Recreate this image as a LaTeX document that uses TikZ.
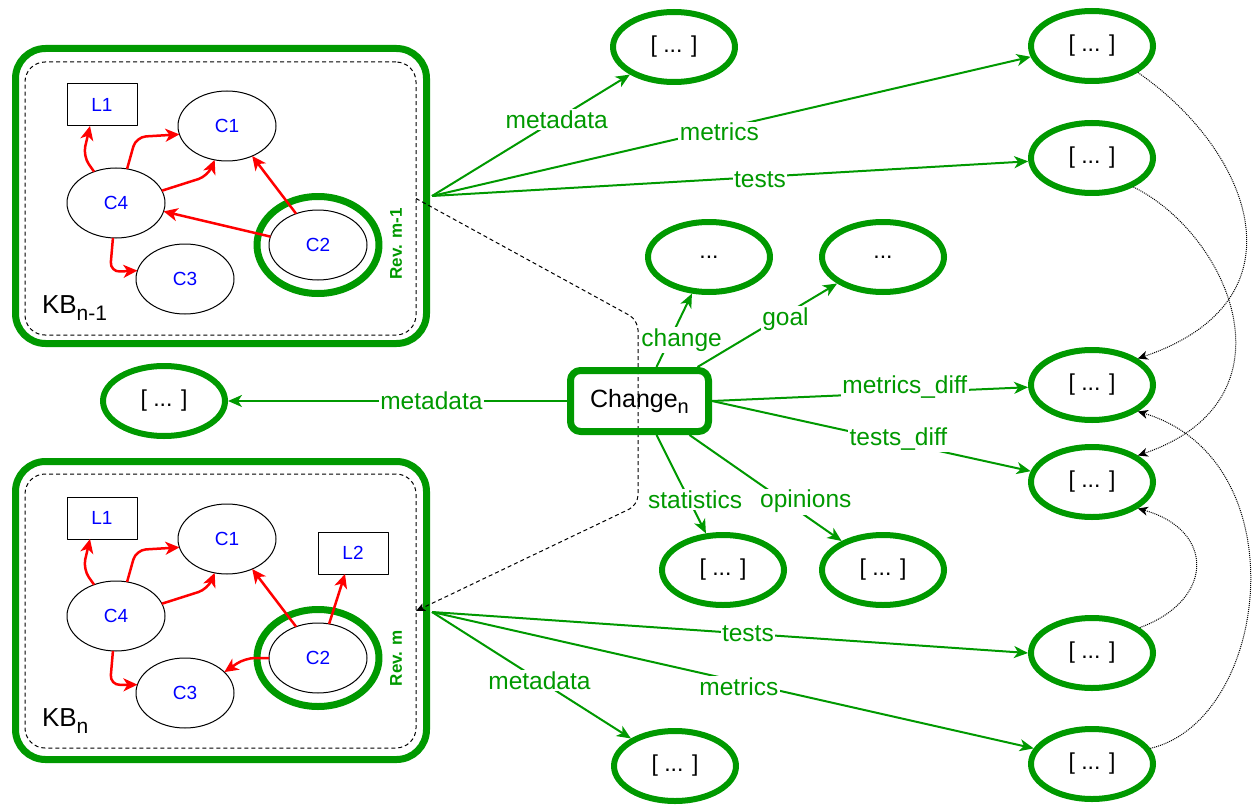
\documentclass[tikz,border=0pt]{standalone}
\usepackage{fontspec}
\setmainfont{Liberation Sans}
\usetikzlibrary{arrows.meta,shapes.geometric,calc}
\definecolor{grn}{RGB}{0,153,0}
\definecolor{blu}{RGB}{0,0,255}
\definecolor{rd}{RGB}{255,0,0}
\begin{document}
\begin{tikzpicture}[x=1pt,y=-1pt,line join=round,
  every node/.style={inner sep=0pt,outer sep=0pt,font=\fontsize{24.5}{29}\selectfont},
  kbbox/.style={draw=grn,line width=7pt,rounded corners=30pt,minimum width=411pt,minimum height=295pt},
  kbin/.style={draw=black,line width=1pt,dash pattern=on 4pt off 3pt,rounded corners=20pt,minimum width=391pt,minimum height=273pt},
  cnode/.style={ellipse,draw=black,line width=1pt,minimum width=98pt,minimum height=70pt,text=blu,font=\fontsize{19}{22}\selectfont},
  lnode/.style={rectangle,draw=black,line width=1pt,minimum width=70pt,minimum height=42pt,text=blu,font=\fontsize{19}{22}\selectfont},
  ring/.style={ellipse,draw=grn,line width=7pt,minimum width=122pt,minimum height=97pt},
  revlbl/.style={rotate=90,text=grn,font=\fontsize{17}{20}\selectfont\bfseries},
  gell/.style={ellipse,draw=grn,line width=6pt,minimum width=122pt,minimum height=70pt,outer sep=3pt,font=\fontsize{23}{27}\selectfont},
  chgbox/.style={rectangle,draw=grn,line width=7pt,rounded corners=10pt,minimum width=138pt,minimum height=61pt,outer sep=3.5pt,font=\fontsize{25}{29}\selectfont},
  redarr/.style={draw=rd,line width=2.5pt,rounded corners=10pt,-{Stealth[length=14pt,width=13pt,inset=4pt]}},
  garr/.style={draw=grn,line width=2pt,-{Stealth[length=14pt,width=12pt,inset=4pt]}},
  lbl/.style={text=grn,fill=white,inner sep=1.5pt},
  dasharr/.style={draw=black,line width=1pt,dash pattern=on 4pt off 3pt,rounded corners=10pt,-{Stealth[length=9pt,width=8pt,inset=2pt]}},
  dotarr/.style={draw=black,line width=1pt,dash pattern=on 1pt off 1pt,-{Stealth[length=10pt,width=9pt,inset=3pt]}}
]
\useasboundingbox (0,0) rectangle (1252,805);

% knowledge base containers
\node[kbbox] (kb1) at (221,196) {};
\node[kbin] (kb1in) at (220.5,198.5) {};
\node[kbbox,minimum height=298pt] (kb2) at (221,610.5) {};
\node[kbin,minimum height=274pt] (kb2in) at (220.5,611) {};

% dashed revision link
\draw[dasharr] (kb1in.east) -- (638,320) -- (638,505) -- (kb2in.east);

\node[anchor=base west,font=\fontsize{26}{30}\selectfont] (kb1lbl) at (42,313) {KB\raisebox{-7pt}{\fontsize{21}{24}\selectfont n-1}};
\node[anchor=base west,font=\fontsize{26}{30}\selectfont] (kb2lbl) at (42,726) {KB\raisebox{-7pt}{\fontsize{21}{24}\selectfont n}};

% KB n-1 content
\node[lnode] (l1a) at (102,105) {L1};
\node[cnode] (c1a) at (227,126) {C1};
\node[cnode] (c4a) at (116,203) {C4};
\node[cnode] (c3a) at (185,279) {C3};
\node[ring] (r2a) at (318,245) {};
\node[cnode] (c2a) at (318,245) {C2};
\node[revlbl] (rev1) at (396,244) {Rev. m-1};

\draw[redarr] (c4a.125) -- (83,156) -- ([xshift=-12pt]l1a.south);
\draw[redarr] (c4a.72) -- (136,137) -- (c1a.190);
\draw[redarr] (c4a.15) -- (208,176) -- (c1a.250);
\draw[redarr] (c2a.125) -- (c1a.310);
\draw[redarr] (c2a.170) -- (c4a.350);
\draw[redarr] (c4a.265) -- (110,272) -- (c3a.170);

% KB n content
\node[lnode] (l1b) at (102,518) {L1};
\node[cnode] (c1b) at (227,539) {C1};
\node[lnode] (l2b) at (353,553) {L2};
\node[cnode] (c4b) at (116,616) {C4};
\node[cnode] (c3b) at (185,693) {C3};
\node[ring] (r2b) at (318,658) {};
\node[cnode] (c2b) at (318,658) {C2};
\node[revlbl] (rev2) at (396,658) {Rev. m};

\draw[redarr] (c4b.125) -- (83,569) -- ([xshift=-12pt]l1b.south);
\draw[redarr] (c4b.72) -- (136,550) -- (c1b.190);
\draw[redarr] (c4b.15) -- (208,589) -- (c1b.250);
\draw[redarr] (c2b.125) -- (c1b.310);
\draw[redarr] (c2b.72) -- ([xshift=-8pt]l2b.south);
\draw[redarr] (c2b.west) -- (245,658) -- (c3b.28);
\draw[redarr] (c4b.265) -- (110,685) -- (c3b.170);

% value nodes
\node[gell] (m1) at (674,47) {[ ... ]};
\node[gell] (e1) at (1092,46) {[ ... ]};
\node[gell] (e2) at (1092,158) {[ ... ]};
\node[gell] (e3) at (1092,385) {[ ... ]};
\node[gell] (e4) at (1092,482) {[ ... ]};
\node[gell] (e5) at (1092,653) {[ ... ]};
\node[gell] (e6) at (1092,764) {[ ... ]};
\node[gell] (d1) at (709,257) {...};
\node[gell] (d2) at (883,257) {...};
\node[gell] (s1) at (723,570) {[ ... ]};
\node[gell] (s2) at (883,570) {[ ... ]};
\node[gell] (lft) at (164,401) {[ ... ]};
\node[gell] (m2) at (675,766) {[ ... ]};

% change node
\node[chgbox] (chg) at (639.5,401) {Change\raisebox{-6pt}{\fontsize{20}{22}\selectfont n}};

\coordinate (kb1o) at (432,196);
\coordinate (kb2o) at (432,612);

% edges from KB n-1
\draw[garr] (kb1o) -- node[lbl,pos=0.63] {metadata} (m1.212);
\draw[garr] (kb1o) -- node[lbl,pos=0.48,yshift=-3pt] {metrics} (e1.190);
\draw[garr] (kb1o) -- node[lbl,pos=0.55,yshift=-3pt] {tests} (e2.183);

% edges from KB n
\draw[garr] (kb2o) -- node[lbl,pos=0.53] {tests} (e5.180);
\draw[garr] (kb2o) -- node[lbl,pos=0.51,yshift=-5pt] {metrics} (e6.165);
\draw[garr] (kb2o) -- node[lbl,pos=0.54] {metadata} (m2.148);

% edges from Change
\draw[garr] (chg.west) -- node[lbl,pos=0.4] {metadata} (lft.east);
\draw[garr] ([xshift=17pt]chg.north) -- node[lbl,pos=0.37,xshift=12pt] {change} (d1.245);
\draw[garr] ([xshift=58pt]chg.north) -- node[lbl,pos=0.63,yshift=-5pt] {goal} (d2.210);
\draw[garr] (chg.east) -- node[lbl,pos=0.61,yshift=6pt] {metrics\_diff} (e3.182);
\draw[garr] (chg.east) -- node[lbl,pos=0.585,yshift=3pt] {tests\_diff} (e4.170);
\draw[garr] ([xshift=17pt]chg.south) -- node[lbl,pos=0.66,xshift=6pt] {statistics} (s1.115);
\draw[garr] ([xshift=50pt]chg.south) -- node[lbl,pos=0.6,xshift=25pt,yshift=-3pt] {opinions} (s2.145);

% dotted links between value nodes
\draw[dotarr] (e1.-30) .. controls (1250,150) and (1310,300) .. (e3.30);
\draw[dotarr] (e2.-35) .. controls (1230,235) and (1300,400) .. (e4.30);
\draw[dotarr] (e6.15) .. controls (1270,720) and (1300,460) .. (e3.-30);
\draw[dotarr] (e5.28) .. controls (1215,600) and (1215,530) .. (e4.-30);
\end{tikzpicture}
\end{document}
